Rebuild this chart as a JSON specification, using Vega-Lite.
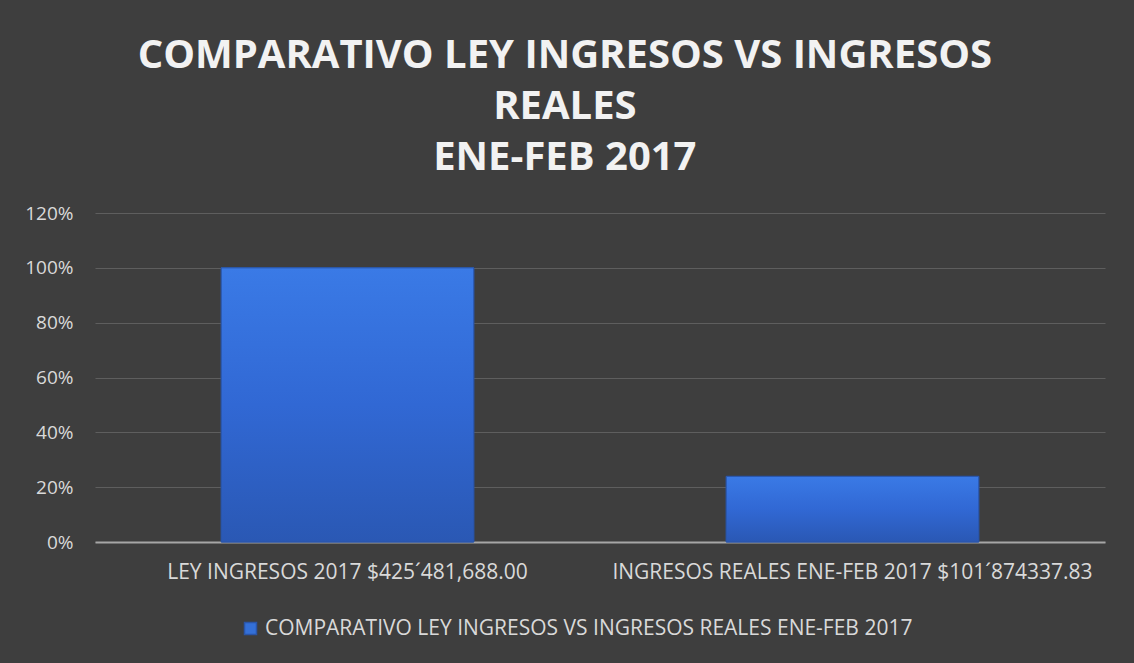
{
  "$schema": "https://vega.github.io/schema/vega-lite/v6.json",
  "width": 1010,
  "height": 329,
  "autosize": {"type": "none"},
  "padding": {"left": 95, "top": 213, "right": 29, "bottom": 121},
  "background": "#3e3e3e",
  "title": {
    "text": ["COMPARATIVO LEY INGRESOS VS INGRESOS", "REALES", "ENE-FEB 2017"],
    "font": "Open Sans",
    "fontWeight": "bold",
    "fontSize": 40,
    "lineHeight": 51,
    "color": "#f2f2f2",
    "anchor": "middle",
    "frame": "bounds",
    "offset": 26
  },
  "data": {
    "values": [
      {"concepto": "LEY INGRESOS 2017 $425´481,688.00", "porcentaje": 1.0, "serie": "COMPARATIVO LEY INGRESOS VS INGRESOS REALES ENE-FEB 2017"},
      {"concepto": "INGRESOS REALES ENE-FEB 2017 $101´874337.83", "porcentaje": 0.2394, "serie": "COMPARATIVO LEY INGRESOS VS INGRESOS REALES ENE-FEB 2017"}
    ]
  },
  "encoding": {
    "x": {
      "field": "concepto",
      "type": "nominal",
      "sort": null,
      "scale": {"paddingInner": 0.5, "paddingOuter": 0.25},
      "axis": {
        "title": null,
        "labelAngle": 0,
        "labelFont": "Open Sans",
        "labelFontSize": 21,
        "labelColor": "#d9d9d9",
        "labelPadding": 19,
        "ticks": false,
        "domainColor": "#a6a6a6",
        "domainWidth": 2,
        "labelLimit": 600
      }
    },
    "y": {
      "field": "porcentaje",
      "type": "quantitative",
      "scale": {"domain": [0, 1.2]},
      "axis": {
        "title": null,
        "format": ".0%",
        "values": [0, 0.2, 0.4, 0.6, 0.8, 1.0, 1.2],
        "labelOverlap": false,
        "labelFont": "Open Sans",
        "labelFontSize": 19,
        "labelColor": "#d9d9d9",
        "labelPadding": 22,
        "ticks": false,
        "domain": false,
        "gridColor": "#5e5e5e",
        "gridWidth": 1
      }
    }
  },
  "layer": [
    {
      "mark": {"type": "bar", "stroke": "#2a55a8", "strokeWidth": 1},
      "encoding": {
        "color": {
          "field": "serie",
          "type": "nominal",
          "scale": {"range": ["#3470d8"]},
          "legend": {
            "title": null,
            "orient": "none",
            "legendX": 145,
            "legendY": 405,
            "direction": "horizontal",
            "symbolType": "square",
            "symbolSize": 144,
            "symbolStrokeColor": "#2a55a8",
            "labelOffset": 4,
            "labelFont": "Open Sans",
            "labelFontSize": 21,
            "labelColor": "#d9d9d9",
            "labelLimit": 900
          }
        }
      }
    },
    {
      "mark": {
        "type": "bar",
        "stroke": "#2a55a8",
        "strokeWidth": 1,
        "color": {
          "gradient": "linear",
          "x1": 0, "y1": 0, "x2": 0, "y2": 1,
          "stops": [
            {"offset": 0, "color": "#3a7ae6"},
            {"offset": 0.5, "color": "#3168d4"},
            {"offset": 1, "color": "#2a58b4"}
          ]
        }
      },
      "encoding": {}
    }
  ],
  "config": {"view": {"stroke": null}}
}
